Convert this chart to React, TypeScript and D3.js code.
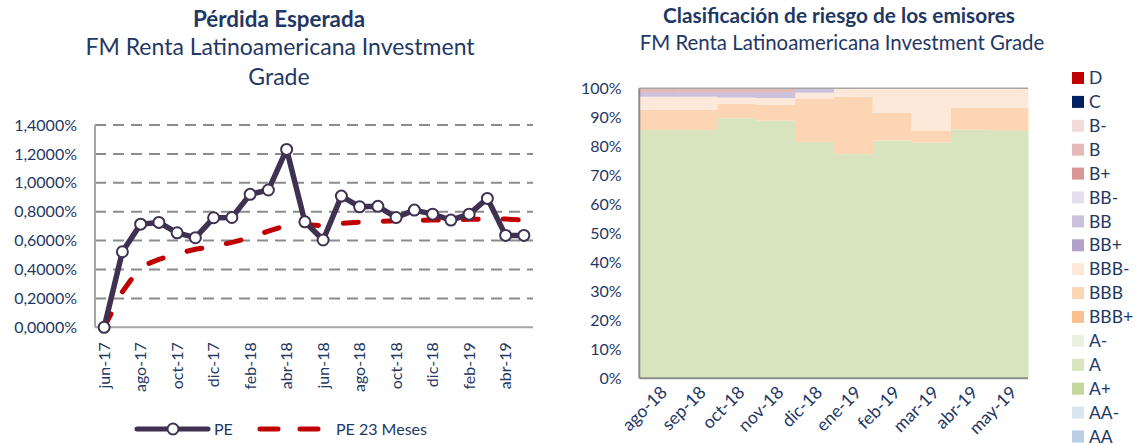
import React from "react";
import * as d3 from "d3";

// ---- Pérdida Esperada (left) ----
const months = [
  "jun-17", "jul-17", "ago-17", "sep-17", "oct-17", "nov-17", "dic-17", "ene-18",
  "feb-18", "mar-18", "abr-18", "may-18", "jun-18", "jul-18", "ago-18", "sep-18",
  "oct-18", "nov-18", "dic-18", "ene-19", "feb-19", "mar-19", "abr-19", "may-19",
];
const pe = [
  0.0, 0.523, 0.714, 0.726, 0.654, 0.62, 0.758, 0.76, 0.92, 0.95, 1.231, 0.73,
  0.604, 0.908, 0.834, 0.837, 0.76, 0.811, 0.783, 0.742, 0.783, 0.892, 0.636, 0.636,
];
const pe23 = [
  0.0, 0.246, 0.42, 0.47, 0.51, 0.54, 0.56, 0.588, 0.62, 0.666, 0.705, 0.712,
  0.703, 0.719, 0.728, 0.733, 0.737, 0.74, 0.742, 0.742, 0.747, 0.749, 0.749, 0.742,
];
const peTicks = [0, 0.2, 0.4, 0.6, 0.8, 1.0, 1.2, 1.4];

// ---- Clasificación de riesgo (right) ----
const periods = ["ago-18", "sep-18", "oct-18", "nov-18", "dic-18", "ene-19", "feb-19", "mar-19", "abr-19", "may-19"];
// legend order, top of stack first
const ratings = ["D", "C", "B-", "B", "B+", "BB-", "BB", "BB+", "BBB-", "BBB", "BBB+", "A-", "A", "A+", "AA-", "AA"];
const ratingColors = [
  "#c00000", "#002060", "#f2dcdb", "#e6b9b8", "#d99694", "#e4dfec", "#ccc1da", "#b3a2c7",
  "#fde9d9", "#fcd5b5", "#fac090", "#ebf1de", "#d7e4bd", "#c3d69b", "#dbe5f1", "#b9cde5",
];
const shareA = [85.6, 85.6, 89.7, 88.8, 81.5, 77.3, 82.0, 81.3, 85.7, 85.3];
const shareBBB = [7.0, 7.0, 4.9, 5.5, 14.8, 19.8, 9.5, 4.0, 7.6, 8.0];
const shareBBBm = [4.5, 4.5, 2.2, 2.3, 2.2, 2.9, 8.5, 14.7, 6.7, 6.7];
const shareBB = [1.6, 1.6, 1.9, 2.1, 1.5, 0, 0, 0, 0, 0];
const shareB = [1.3, 1.3, 1.3, 1.3, 0, 0, 0, 0, 0, 0];
const pctTicks = [0, 10, 20, 30, 40, 50, 60, 70, 80, 90, 100];

const NAVY = "#1f3864";
const FONT = "Lato, 'Open Sans', sans-serif";

const esLocale = d3.formatLocale({ decimal: ",", thousands: ".", grouping: [3], currency: ["", "€"] });
const fmt4 = esLocale.format(".4f");

function LeftChart() {
  const x = d3.scaleBand().domain(months).range([95, 533]).padding(0);
  const y = d3.scaleLinear().domain([0, 1.4]).range([327.3, 125]);
  const cx = (m: string) => (x(m) as number) + x.bandwidth() / 2;

  const line = d3.line<number>()
    .x((d, i) => cx(months[i]))
    .y(d => y(d));

  return (
    <g>
      <text x={279} y={27} textAnchor="middle" fontFamily={FONT} fontWeight="bold" fontSize={22.4} fill={NAVY}>
        Pérdida Esperada
      </text>
      <text x={280} y={55} textAnchor="middle" fontFamily={FONT} fontSize={23} fill={NAVY}>
        FM Renta Latinoamericana Investment
      </text>
      <text x={279} y={85} textAnchor="middle" fontFamily={FONT} fontSize={23} fill={NAVY}>
        Grade
      </text>

      {peTicks.map(t => (
        <g key={t}>
          {t > 0 && (
            <line x1={95} x2={533} y1={y(t)} y2={y(t)} stroke="#8c8c8c" strokeWidth={2} strokeDasharray="11 7" />
          )}
          <text x={77} y={y(t)} dy="0.35em" textAnchor="end" fontFamily={FONT} fontSize={16} fill={NAVY}>
            {fmt4(t)}%
          </text>
        </g>
      ))}
      <line x1={95} x2={95} y1={125} y2={y(0)} stroke="#a6a6a6" strokeWidth={2} />
      <line x1={95} x2={533} y1={y(0)} y2={y(0)} stroke="#a6a6a6" strokeWidth={2} />

      {months.map((m, i) =>
        i % 2 === 0 ? (
          <text key={m} transform={`translate(${cx(m)},${y(0) + 15}) rotate(-90)`} dy="0.35em"
            textAnchor="end" fontFamily={FONT} fontSize={16} fill={NAVY}>
            {m}
          </text>
        ) : null
      )}

      <path d={line(pe23) || ""} fill="none" stroke="#c00000" strokeWidth={5}
        strokeDasharray="15 25" strokeLinecap="round" />
      <path d={line(pe) || ""} fill="none" stroke="#3f3151" strokeWidth={5.5} strokeLinejoin="round" />
      {pe.map((v, i) => (
        <circle key={i} cx={cx(months[i])} cy={y(v)} r={5.5} fill="#fff" stroke="#3f3151" strokeWidth={2} />
      ))}

      {/* legend */}
      <line x1={137} x2={208} y1={429} y2={429} stroke="#3f3151" strokeWidth={5} strokeLinecap="round" />
      <circle cx={173} cy={429} r={5.5} fill="#fff" stroke="#3f3151" strokeWidth={2} />
      <text x={214} y={429} dy="0.35em" fontFamily={FONT} fontSize={16} fill={NAVY}>PE</text>
      <line x1={260} x2={318} y1={429} y2={429} stroke="#c00000" strokeWidth={5}
        strokeDasharray="18 22" strokeLinecap="round" />
      <text x={336} y={429} dy="0.35em" fontFamily={FONT} fontSize={16} fill={NAVY}>PE 23 Meses</text>
    </g>
  );
}

function RightChart() {
  const x = d3.scaleBand().domain(periods).range([639.3, 1028]).padding(0);
  const y = d3.scaleLinear().domain([0, 100]).range([378.3, 88.3]);

  const seriesByRating: Record<string, number[]> = {
    A: shareA, BBB: shareBBB, "BBB-": shareBBBm, BB: shareBB, B: shareB,
  };
  const rows = periods.map((p, i) => {
    const r: Record<string, number | string> = { period: p };
    ratings.forEach(k => { r[k] = seriesByRating[k] ? seriesByRating[k][i] : 0; });
    return r;
  });
  const stackKeys = ratings.slice().reverse();
  const stacked = d3.stack<Record<string, number | string>>().keys(stackKeys)(rows);

  return (
    <g>
      <text x={839} y={23} textAnchor="middle" fontFamily={FONT} fontWeight="bold" fontSize={20.8} fill={NAVY}>
        Clasificación de riesgo de los emisores
      </text>
      <text x={842} y={50} textAnchor="middle" fontFamily={FONT} fontSize={20.4} fill={NAVY}>
        FM Renta Latinoamericana Investment Grade
      </text>

      {stacked.map(s => {
        const color = ratingColors[ratings.indexOf(s.key)];
        return (
          <g key={s.key}>
            {s.map((d, i) =>
              d[1] - d[0] > 0 ? (
                <rect key={i} x={x(periods[i]) as number} width={x.bandwidth() + 0.5}
                  y={y(d[1])} height={y(d[0]) - y(d[1])} fill={color} />
              ) : null
            )}
          </g>
        );
      })}

      <line x1={639.3} x2={1028} y1={y(100)} y2={y(100)} stroke="#a6a6a6" strokeWidth={1.5} />
      <line x1={639.3} x2={639.3} y1={y(100)} y2={y(0)} stroke="#8c8c8c" strokeWidth={2} />
      <line x1={639.3} x2={1028} y1={y(0)} y2={y(0)} stroke="#8c8c8c" strokeWidth={2} />

      {pctTicks.map(t => (
        <text key={t} x={621.7} y={y(t)} dy="0.35em" textAnchor="end" fontFamily={FONT} fontSize={16} fill={NAVY}>
          {t}%
        </text>
      ))}

      {periods.map(p => (
        <text key={p} transform={`translate(${(x(p) as number) + x.bandwidth() / 2 + 5},${y(0) + 11}) rotate(-45)`}
          dy="0.35em" textAnchor="end" fontFamily={FONT} fontSize={17.5} fill={NAVY}>
          {p}
        </text>
      ))}

      {ratings.map((r, i) => (
        <g key={r} transform={`translate(1072,${78 + i * 23.9})`}>
          <rect x={0} y={-6} width={12} height={12} fill={ratingColors[i]} />
          <text x={17} y={0} dy="0.35em" fontFamily={FONT} fontSize={17.5} fill={NAVY}>{r}</text>
        </g>
      ))}
    </g>
  );
}

export default function App() {
  return (
    <svg width={1137} height={445} style={{ position: "absolute", left: 0, top: 0, background: "#fff" }}>
      <LeftChart />
      <RightChart />
    </svg>
  );
}
